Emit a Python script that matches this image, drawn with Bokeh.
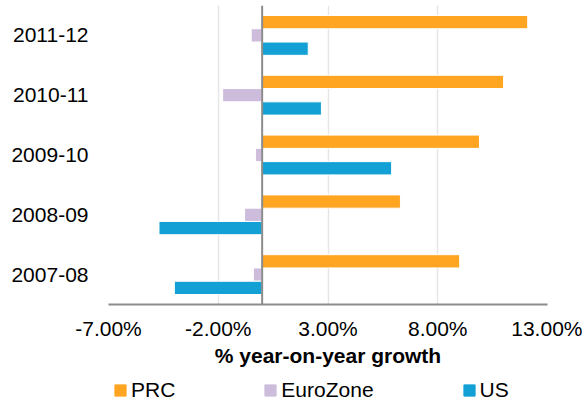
from bokeh.plotting import figure
from bokeh.layouts import column
from bokeh.models import Range1d, FixedTicker, Span, Legend, LegendItem, ColumnDataSource
from bokeh.embed import file_html
from bokeh.resources import INLINE

# ---- data (categories listed bottom to top) ----
categories = ["2007-08", "2008-09", "2009-10", "2010-11", "2011-12"]
prc = [9.0, 6.3, 9.9, 11.0, 12.1]
eurozone = [-0.4, -0.8, -0.3, -1.8, -0.5]
us = [-4.0, -4.7, 5.9, 2.7, 2.1]
series_names = ["PRC", "EuroZone", "US"]
series_values = [prc, eurozone, us]
series_colors = ["#FFA521", "#CDBCDC", "#13A0D4"]
x_ticks = [-7, -2, 3, 8, 13]
x_label = "% year-on-year growth"

FONT = "Liberation Sans"
bar_h = 0.222
offsets = [bar_h, 0.0, -bar_h]

p = figure(width=582, height=369,
           x_range=Range1d(x_ticks[0], x_ticks[-1]),
           y_range=Range1d(0, len(categories)),
           output_backend="svg", toolbar_location=None,
           min_border_left=108, min_border_right=35,
           min_border_top=5, min_border_bottom=64)
p.outline_line_color = None
p.background_fill_color = "white"

cat_pos = [i + 0.5 for i in range(len(categories))]

sources = []
for name, vals, col, off in zip(series_names, series_values, series_colors, offsets):
    src = ColumnDataSource(dict(y=[c + off for c in cat_pos], v=vals, cat=categories))
    sources.append(src)
    p.hbar(y="y", left=0, right="v", height=bar_h, source=src,
           fill_color=col, line_color="white", line_width=1)

# grid
p.xgrid.ticker = FixedTicker(ticks=x_ticks)
p.xgrid.grid_line_color = "#E6E6E6"
p.xgrid.grid_line_width = 1.5
p.ygrid.grid_line_color = None

# x axis
p.xaxis.ticker = FixedTicker(ticks=x_ticks)
p.xaxis.major_label_overrides = {t: f"{t:.2f}%" for t in x_ticks}
p.xaxis.axis_line_color = "#8C8C8C"
p.xaxis.axis_line_width = 2
p.xaxis.major_tick_line_color = None
p.xaxis.minor_tick_line_color = None
p.xaxis.major_tick_out = 0
p.xaxis.major_tick_in = 0
p.xaxis.major_label_standoff = 12
p.xaxis.axis_label = x_label
p.xaxis.axis_label_text_font = FONT
p.xaxis.axis_label_text_font_size = "21px"
p.xaxis.axis_label_text_font_style = "bold"
p.xaxis.axis_label_text_color = "black"
p.xaxis.axis_label_standoff = 1

# y axis
p.yaxis.ticker = FixedTicker(ticks=cat_pos)
p.yaxis.major_label_overrides = {c: lab for c, lab in zip(cat_pos, categories)}
p.yaxis.axis_line_color = None
p.yaxis.major_tick_line_color = None
p.yaxis.minor_tick_line_color = None
p.yaxis.major_tick_out = 0
p.yaxis.major_tick_in = 0
p.yaxis.major_label_standoff = 20

for ax in (p.xaxis, p.yaxis):
    ax.major_label_text_font = FONT
    ax.major_label_text_font_size = "21px"
    ax.major_label_text_color = "black"

# zero line (vertical axis crossing)
p.add_layout(Span(location=0, dimension="height", line_color="#8C8C8C", line_width=2))

# ---- legend strip below the chart (frame is aligned with the chart's frame) ----
lg = figure(width=582, height=32, x_range=Range1d(0, 1), y_range=Range1d(0, 1),
            x_axis_type=None, y_axis_type=None,
            output_backend="svg", toolbar_location=None,
            min_border_left=108, min_border_right=35, min_border_top=0, min_border_bottom=0)
lg.outline_line_color = None
items = []
for name, col, src in zip(series_names, series_colors, sources):
    r = lg.hbar(y="y", left=0, right="v", height=bar_h, source=src,
                fill_color=col, line_color=col, visible=False)
    items.append(LegendItem(label=name, renderers=[r]))

legend = Legend(items=items, orientation="horizontal", location=(5, -1),
                padding=0, margin=0, spacing=88,
                glyph_width=14, glyph_height=14, label_standoff=4,
                border_line_color=None, background_fill_alpha=0,
                inactive_fill_alpha=0,
                label_text_font=FONT, label_text_font_size="21px",
                label_text_color="black")
lg.add_layout(legend)

open("out.html", "w").write(file_html(column(p, lg, spacing=0), INLINE))
